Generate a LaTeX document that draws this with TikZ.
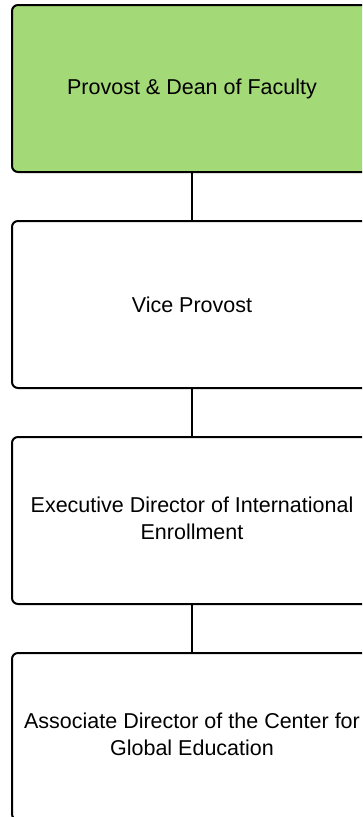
\documentclass[tikz,border=0pt]{standalone}
\usepackage{fontspec}
\setmainfont{Liberation Sans}
\definecolor{boxgreen}{RGB}{163,217,119}
\newcommand{\liftlines}[1]{\raisebox{3.5pt}{\begin{tabular}{@{}c@{}}#1\end{tabular}}}
\begin{document}
\begin{tikzpicture}[x=1pt,y=-1pt,
  box/.style={draw=black, line width=2pt, rounded corners=6pt, minimum width=360pt,
    minimum height=167pt, align=center, font=\fontsize{21.5}{26.5}\selectfont,
    inner sep=0pt, anchor=north west, text=black},
  link/.style={draw=black, line width=2pt}]
\useasboundingbox (0,0) rectangle (362,817);
\clip (0,0) rectangle (362,817);
\node[box, fill=boxgreen] (a) at (11,4) {\raisebox{-1.5pt}{Provost \& Dean of Faculty}};
\node[box, fill=white] (b) at (11,220) {Vice Provost};
\node[box, fill=white] (c) at (11,436) {\liftlines{Executive Director of International\\Enrollment}};
\node[box, fill=white] (d) at (11,652) {\liftlines{Associate Director of the Center for\\Global Education}};
\draw[link] (a.south) -- (b.north);
\draw[link] (b.south) -- (c.north);
\draw[link] (c.south) -- (d.north);
\end{tikzpicture}
\end{document}
